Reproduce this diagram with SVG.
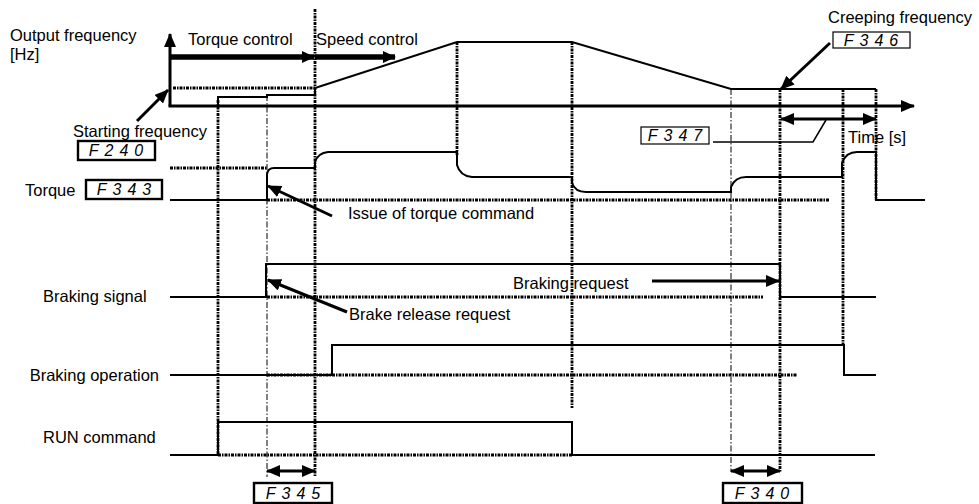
<svg xmlns="http://www.w3.org/2000/svg" width="979" height="504" viewBox="0 0 979 504">
<style>
text{font-family:"Liberation Sans",Arial,sans-serif;font-size:16.5px;fill:#000}
.seg{font-style:italic;font-size:16px;letter-spacing:6px;text-anchor:middle}
.w{fill:none;stroke:#000;stroke-width:2}
.ax{fill:none;stroke:#000;stroke-width:3}
.dt{fill:none;stroke:#000;stroke-width:2.8;stroke-dasharray:3 1 1.5 1}
.dd{fill:none;stroke:#000;stroke-width:1;stroke-dasharray:6 2 1.5 2}
.ar{fill:none;stroke:#000;stroke-width:3}
.box{fill:#fff;stroke:#000;stroke-width:1.2}
.boxk{fill:#fff;stroke:#000;stroke-width:2.4}
</style>
<defs>
<marker id="ah" markerUnits="userSpaceOnUse" markerWidth="14" markerHeight="12" refX="13" refY="6" orient="auto-start-reverse"><path d="M0,0 L14,6 L0,12 z" fill="#000"/></marker>
<marker id="ahb" markerUnits="userSpaceOnUse" markerWidth="13" markerHeight="12" refX="12" refY="6" orient="auto"><path d="M0,0 L13,6 L0,12 z" fill="#000"/></marker>
</defs>

<!-- vertical guide lines -->
<g id="guides">
<line class="dt" x1="218" y1="100" x2="218" y2="455"/>
<line class="dd" x1="267" y1="95" x2="267" y2="477"/>
<line class="dt" x1="315" y1="9" x2="315" y2="477"/>
<line class="dt" x1="457" y1="42" x2="457" y2="155"/>
<line class="dt" x1="572" y1="42" x2="572" y2="408"/>
<line class="dd" x1="731" y1="89" x2="731" y2="472"/>
<line class="dt" x1="780" y1="89" x2="780" y2="472"/>
<line class="dt" x1="843" y1="89" x2="843" y2="345"/>
<line class="dt" x1="876" y1="89" x2="876" y2="200"/>
<!-- horizontal dotted references -->
<line class="dt" x1="173" y1="88" x2="315" y2="88"/>
<line class="dt" x1="170" y1="168" x2="267" y2="168"/>
<line class="dt" x1="267" y1="200" x2="830" y2="200"/>
<line class="dt" x1="267" y1="297" x2="763" y2="297"/>
<line class="dt" x1="267" y1="375" x2="797" y2="375"/>
<line class="dt" x1="218" y1="455" x2="572" y2="455"/>
</g>

<!-- axes -->
<g id="axes">
<line class="ax" x1="170" y1="106" x2="170" y2="34" marker-end="url(#ah)"/>
<line class="ax" x1="168.5" y1="106" x2="914" y2="106" marker-end="url(#ah)"/>
</g>

<!-- waveforms -->
<g id="output-frequency">
<path class="w" d="M218,106 V97 H267 V95 H315 V88 L457,42 H572 L731,89 H876"/>
</g>
<g id="torque">
<path class="w" d="M170,200 H267 V174 Q268,168 274,168 H315 V162 Q318,153 328,152 H457 V165 Q460,176 472,177 H572 V183 Q575,192 586,192 H731 V187 Q735,177 746,177 H842 V163 Q846,152 857,152 H876 V200 H925"/>
</g>
<g id="braking-signal">
<path class="w" d="M170,297 H266 V264 H780 V297 H876"/>
</g>
<g id="braking-operation">
<path class="w" d="M170,375 H332 V345 H844 V375 H876"/>
</g>
<g id="run-command">
<path class="w" d="M170,455 H218 V422 H572 V455 H875"/>
</g>

<!-- labels -->
<g id="label-output-frequency"><text x="10" y="41">Output frequency</text><text x="10" y="60">[Hz]</text></g>
<g id="label-torque-control"><text x="188" y="45">Torque control</text></g>
<g id="label-speed-control"><text x="316" y="45">Speed control</text></g>
<g id="label-starting-frequency"><text x="73" y="137">Starting frequency</text>
<rect class="boxk" x="78" y="141" width="77" height="19"/><text class="seg" x="119" y="156">F240</text></g>
<g id="label-torque"><text x="25" y="196">Torque</text>
<rect class="boxk" x="86" y="180" width="76" height="19"/><text class="seg" x="127" y="195">F343</text></g>
<g id="label-issue"><text x="348" y="219">Issue of torque command</text></g>
<g id="label-braking-signal"><text x="43" y="302">Braking signal</text></g>
<g id="label-brake-release"><text x="349" y="320">Brake release request</text></g>
<g id="label-braking-request"><text x="513" y="289">Braking request</text></g>
<g id="label-braking-operation"><text x="159" y="381" text-anchor="end">Braking operation</text></g>
<g id="label-run"><text x="43" y="443">RUN command</text></g>
<g id="label-creeping"><text x="828" y="23">Creeping frequency</text>
<rect class="box" x="833" y="32" width="77" height="16"/><text class="seg" x="874" y="46">F346</text></g>
<g id="label-f347"><rect class="box" x="641" y="127" width="68" height="17"/><text class="seg" x="678" y="141">F347</text></g>
<g id="label-time"><text x="848" y="143">Time [s]</text></g>
<g id="label-f345"><rect class="boxk" x="254" y="483" width="78" height="20"/><text class="seg" x="296" y="499">F345</text></g>
<g id="label-f340"><rect class="boxk" x="723" y="483" width="79" height="20"/><text class="seg" x="765" y="499">F340</text></g>

<!-- connectors -->
<g id="connectors">
<line x1="170" y1="57" x2="314" y2="57" stroke="#000" stroke-width="5.5" marker-end="url(#ahb)"/>
<line x1="315" y1="57" x2="395" y2="57" stroke="#000" stroke-width="5.5" marker-end="url(#ahb)"/>
<line class="ar" x1="137" y1="121" x2="168" y2="90" marker-end="url(#ah)"/>
<line class="ar" x1="332" y1="216" x2="268" y2="186" marker-end="url(#ah)"/>
<line class="ar" x1="347" y1="312" x2="268" y2="280" marker-end="url(#ah)"/>
<line class="ar" x1="652" y1="281" x2="779" y2="281" marker-end="url(#ah)"/>
<line class="ar" x1="830" y1="43" x2="781" y2="89" marker-end="url(#ah)"/>
<line class="ar" x1="781" y1="119" x2="876" y2="119" marker-start="url(#ah)" marker-end="url(#ah)"/>
<polyline fill="none" stroke="#000" stroke-width="1.5" points="713,142 813,142 826,120"/>
<line class="ar" x1="267" y1="471" x2="315" y2="471" marker-start="url(#ah)" marker-end="url(#ah)"/>
<line class="ar" x1="731" y1="471" x2="780" y2="471" marker-start="url(#ah)" marker-end="url(#ah)"/>
</g>
</svg>
